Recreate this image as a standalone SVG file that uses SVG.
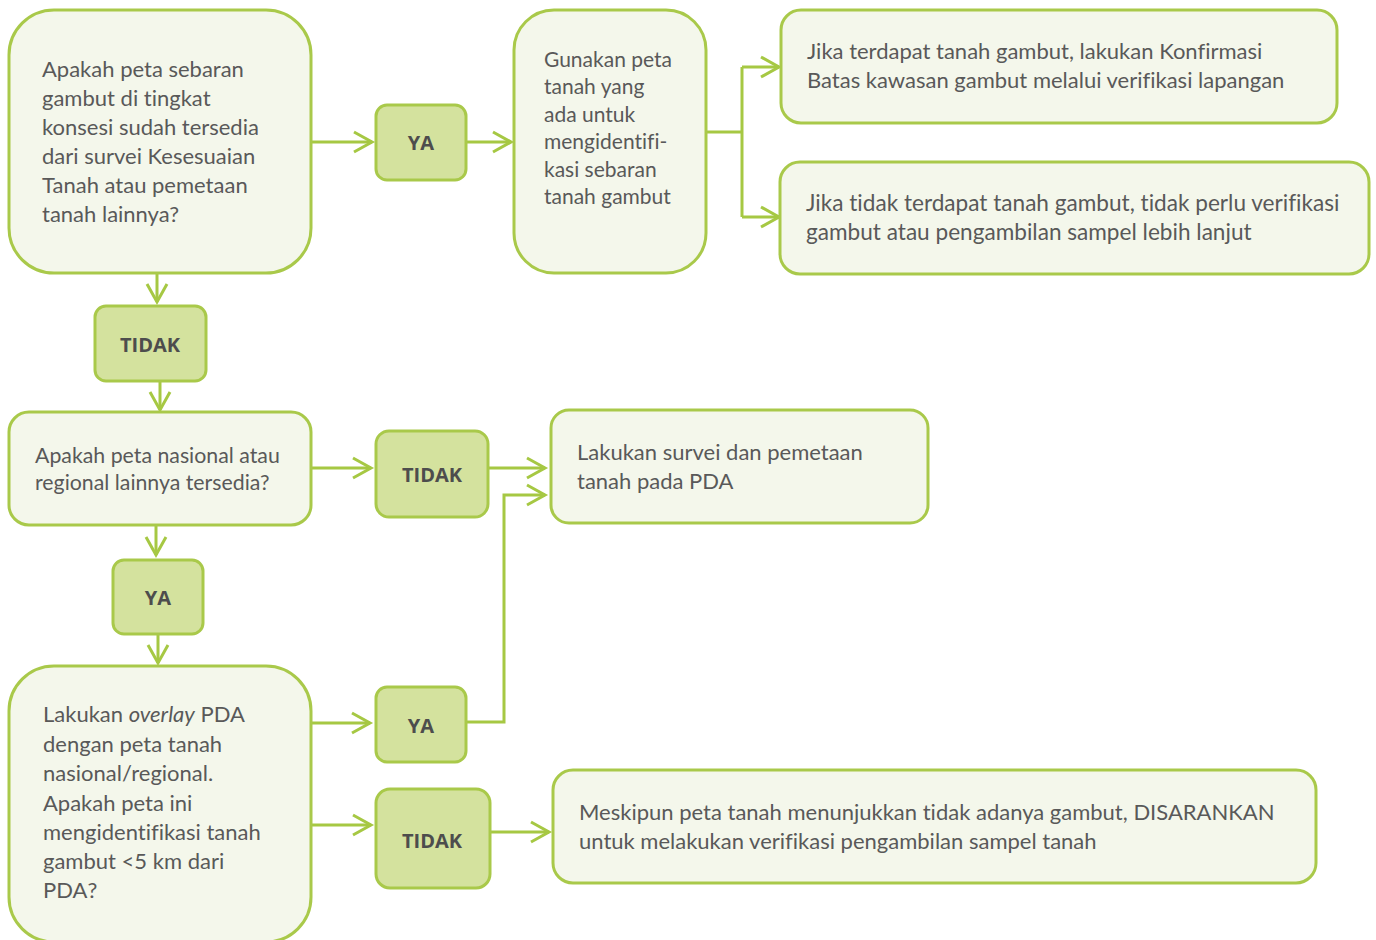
<svg xmlns="http://www.w3.org/2000/svg" width="1376" height="940" viewBox="0 0 1376 940">
<defs>
<marker id="arr" markerUnits="userSpaceOnUse" markerWidth="24" markerHeight="26" refX="20" refY="13" orient="auto">
<path d="M2,3 L20,13 L2,23" fill="none" stroke="#A6C843" stroke-width="3"/>
</marker>
<style>
.node{fill:#F4F7EB;stroke:#A9C94A;stroke-width:3}
.lab{fill:#D4E29E;stroke:#A9C94A;stroke-width:3}
.t{font-family:Lato,"Open Sans","Liberation Sans",sans-serif;font-size:22px;fill:#595959;font-variant-ligatures:none}
.b{font-family:"Open Sans","Liberation Sans",sans-serif;font-size:20px;font-weight:bold;fill:#4D4D4D;text-anchor:middle}
.c{fill:none;stroke:#A6C843;stroke-width:3}
</style>
</defs>
<rect width="1376" height="940" fill="#FFFFFF"/>
<g id="connectors">
<path class="c" d="M311,142 H372" marker-end="url(#arr)"/>
<path class="c" d="M466,142 H511" marker-end="url(#arr)"/>
<path class="c" d="M706,132 H742"/>
<path class="c" d="M742,67 V217"/>
<path class="c" d="M742,67 H779" marker-end="url(#arr)"/>
<path class="c" d="M742,217 H779" marker-end="url(#arr)"/>
<path class="c" d="M157,273 V302" marker-end="url(#arr)"/>
<path class="c" d="M160,381 V410" marker-end="url(#arr)"/>
<path class="c" d="M311,468 H371" marker-end="url(#arr)"/>
<path class="c" d="M488,468 H545" marker-end="url(#arr)"/>
<path class="c" d="M156,525 V555" marker-end="url(#arr)"/>
<path class="c" d="M158,634 V663" marker-end="url(#arr)"/>
<path class="c" d="M311,723 H370" marker-end="url(#arr)"/>
<path class="c" d="M466,722 H504 V495 H545" marker-end="url(#arr)"/>
<path class="c" d="M311,825 H371" marker-end="url(#arr)"/>
<path class="c" d="M490,832 H549" marker-end="url(#arr)"/>
</g>
<g id="q1">
<rect class="node" x="9" y="10" width="302" height="263" rx="45"/>
<text class="t" x="42"><tspan x="42" y="77">Apakah peta sebaran</tspan><tspan x="42" y="106">gambut di tingkat</tspan><tspan x="42" y="135">konsesi sudah tersedia</tspan><tspan x="42" y="164">dari survei Kesesuaian</tspan><tspan x="42" y="193">Tanah atau pemetaan</tspan><tspan x="42" y="222">tanah lainnya?</tspan></text>
</g>
<g id="ya1">
<rect class="lab" x="376" y="105" width="90" height="75" rx="11"/>
<text class="b" x="421" y="150">YA</text>
</g>
<g id="use-map">
<rect class="node" x="514" y="10" width="192" height="263" rx="40"/>
<text class="t" x="544" style="font-size:21px"><tspan x="544" y="67">Gunakan peta</tspan><tspan x="544" y="94">tanah yang</tspan><tspan x="544" y="122">ada untuk</tspan><tspan x="544" y="149">mengidentifi-</tspan><tspan x="544" y="177">kasi sebaran</tspan><tspan x="544" y="204">tanah gambut</tspan></text>
</g>
<g id="peat-yes">
<rect class="node" x="781" y="10" width="556" height="113" rx="20"/>
<text class="t" x="807"><tspan x="807" y="59">Jika terdapat tanah gambut, lakukan Konfirmasi</tspan><tspan x="807" y="88">Batas kawasan gambut melalui verifikasi lapangan</tspan></text>
</g>
<g id="peat-no">
<rect class="node" x="780" y="162" width="589" height="112" rx="20"/>
<text class="t" x="806" style="font-size:22.6px"><tspan x="806" y="211">Jika tidak terdapat tanah gambut,  tidak perlu verifikasi</tspan><tspan x="806" y="240">gambut atau pengambilan sampel lebih lanjut</tspan></text>
</g>
<g id="tidak1">
<rect class="lab" x="95" y="306" width="111" height="75" rx="11"/>
<text class="b" x="150" y="352">TIDAK</text>
</g>
<g id="q2">
<rect class="node" x="9" y="412" width="302" height="113" rx="20"/>
<text class="t" x="35" style="font-size:21.3px"><tspan x="35" y="463">Apakah peta nasional atau</tspan><tspan x="35" y="490">regional lainnya tersedia?</tspan></text>
</g>
<g id="tidak2">
<rect class="lab" x="376" y="431" width="112" height="86" rx="13"/>
<text class="b" x="432" y="482">TIDAK</text>
</g>
<g id="survey">
<rect class="node" x="551" y="410" width="377" height="113" rx="18"/>
<text class="t" x="577"><tspan x="577" y="460">Lakukan survei dan pemetaan</tspan><tspan x="577" y="489">tanah pada PDA</tspan></text>
</g>
<g id="ya2">
<rect class="lab" x="113" y="560" width="90" height="74" rx="11"/>
<text class="b" x="158" y="605">YA</text>
</g>
<g id="q3">
<rect class="node" x="9" y="666" width="302" height="276" rx="45"/>
<text class="t" x="43"><tspan x="43" y="722">Lakukan <tspan font-style="italic">overlay</tspan> PDA</tspan><tspan x="43" y="752">dengan peta tanah</tspan><tspan x="43" y="781">nasional/regional.</tspan><tspan x="43" y="811">Apakah peta ini</tspan><tspan x="43" y="840">mengidentifikasi tanah</tspan><tspan x="43" y="869">gambut &lt;5 km dari</tspan><tspan x="43" y="898">PDA?</tspan></text>
</g>
<g id="ya3">
<rect class="lab" x="376" y="687" width="90" height="75" rx="11"/>
<text class="b" x="421" y="733">YA</text>
</g>
<g id="tidak3">
<rect class="lab" x="376" y="789" width="114" height="99" rx="14"/>
<text class="b" x="432" y="848">TIDAK</text>
</g>
<g id="recommend">
<rect class="node" x="553" y="770" width="763" height="113" rx="20"/>
<text class="t" x="579"><tspan x="579" y="820">Meskipun peta tanah menunjukkan tidak adanya gambut, DISARANKAN</tspan><tspan x="579" y="849">untuk melakukan verifikasi pengambilan sampel tanah</tspan></text>
</g>
</svg>
